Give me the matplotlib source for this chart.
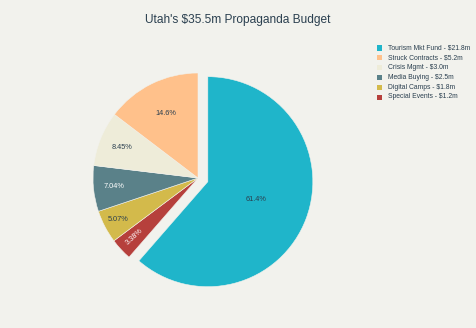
import matplotlib
matplotlib.use("Agg")
import matplotlib.pyplot as plt
import numpy as np
from matplotlib.patches import Rectangle

# data (clockwise from 12 o'clock)
categories = ["Tourism Mkt Fund", "Special Events", "Digital Camps", "Media Buying", "Crisis Mgmt", "Struck Contracts"]
values = [21.8, 1.2, 1.8, 2.5, 3.0, 5.2]
legend_order = ["Tourism Mkt Fund", "Struck Contracts", "Crisis Mgmt", "Media Buying", "Digital Camps", "Special Events"]
title = "Utah's $35.5m Propaganda Budget"

colors = {"Tourism Mkt Fund": "#1fb5ca", "Special Events": "#b6403c", "Digital Camps": "#d3ba4b",
          "Media Buying": "#5a8189", "Crisis Mgmt": "#eeecd9", "Struck Contracts": "#ffc18b"}
txtcol = {"Tourism Mkt Fund": "#2a3f4f", "Special Events": "white", "Digital Camps": "#2a3f4f",
          "Media Buying": "white", "Crisis Mgmt": "#2a3f4f", "Struck Contracts": "#2a3f4f"}
label_r = {"Tourism Mkt Fund": 0.49, "Special Events": 0.83, "Digital Camps": 0.86,
           "Media Buying": 0.80, "Crisis Mgmt": 0.78, "Struck Contracts": 0.69}
bg = "#f2f2ed"
font = "Liberation Sans"

fig = plt.figure(figsize=(4.76, 3.28), dpi=100, facecolor=bg)
W, H = 476, 328
cx, cy, R = 198, 178, 105
half = 1.4 * R
ax = fig.add_axes([(cx - half) / W, (H - cy - half) / H, 2 * half / W, 2 * half / H])
ax.set_facecolor(bg)
ax.axis("off")

explode = [0.1 if c == "Tourism Mkt Fund" else 0 for c in categories]
wedges, _ = ax.pie(values, explode=explode, startangle=90, counterclock=False,
                   colors=[colors[c] for c in categories],
                   wedgeprops=dict(edgecolor=bg, linewidth=0.4))
ax.set_xlim(-1.4, 1.4)
ax.set_ylim(-1.4, 1.4)
ax.set_aspect("equal")

total = sum(values)
for w, c, v in zip(wedges, categories, values):
    mid = np.deg2rad((w.theta1 + w.theta2) / 2)
    ox, oy = w.center
    r = label_r[c]
    x = ox + r * np.cos(mid)
    y = oy + r * np.sin(mid)
    pct = 100 * v / total
    s = f"{pct:.3g}%"
    rot = 0
    if c == "Special Events":
        rot = np.rad2deg(mid) + 180
    ax.text(x, y, s, ha="center", va="center", fontsize=5.3, color=txtcol[c],
            family=font, rotation=rot)

fig.text(238 / W, 1 - 20 / H, title, ha="center", va="center", fontsize=8.6,
         color="#2a3f4f", family=font)

# legend
y0, dy = 48, 9.8
for i, c in enumerate(legend_order):
    yy = y0 + i * dy
    fig.patches.append(Rectangle(((379 - 2.5) / W, 1 - (yy + 2.5) / H), 5 / W, 5 / H,
                                 transform=fig.transFigure, facecolor=colors[c],
                                 edgecolor="none"))
    v = values[categories.index(c)]
    fig.text(388 / W, 1 - yy / H, f"{c} - ${v:.1f}m", ha="left", va="center",
             fontsize=4.9, color="#2a3f4f", family=font)

fig.savefig("out.png", dpi=100, facecolor=bg)
